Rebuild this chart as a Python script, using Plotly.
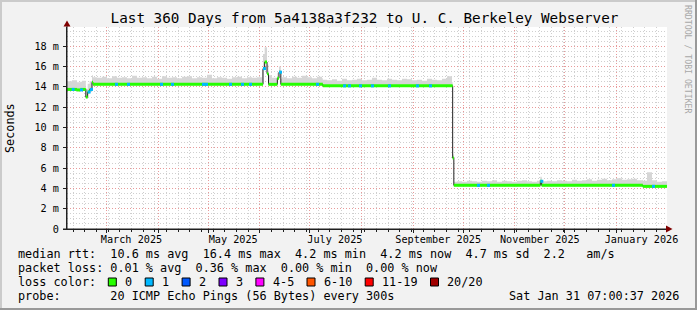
import pandas as pd
import plotly.graph_objects as go

# ---------------- data ----------------
START = pd.Timestamp("2025-02-05 07:00:37")
END = pd.Timestamp("2026-01-31 07:00:37")

# median rtt (ms), step changes, given as days since START
median_day = [0, 6.0, 8.0, 11.3, 12.4, 13.6, 15.0, 15.6, 117.6, 118.6, 120.0, 120.9,
              126.2, 127.2, 128.3, 153.5, 231.4, 232.1, 284.0, 284.8, 345.5]
median_ms = [13.75, 13.7, 13.75, 13.0, 13.5, 13.75, 14.45, 14.25, 15.8, 16.45, 15.3, 14.25,
             14.85, 15.45, 14.25, 14.1, 7.0, 4.3, 4.7, 4.3, 4.2]

# days (since START) where the median carries 1/20 packet loss (blue)
loss1_day = [2.8, 7.8, 12.4, 13.8, 28.8, 36.0, 55.8, 62.4, 81.0, 82.8, 97.2, 104.4, 109.2,
             117.6, 127.2, 149.4, 165.6, 168.6, 175.2, 182.4, 192.6, 209.4, 217.2, 246.0,
             252.0, 284.0, 327.0, 351.0]

# smoke height above the median (ms), one value per 3 days
smoke_spread_ms = [
    0.80, 0.90, 0.75, 0.85, 0.80, 0.70, 0.65, 0.75, 0.60, 0.80,
    0.65, 0.70, 0.60, 0.85, 0.65, 0.70, 0.60, 0.75, 0.55, 0.80,
    0.65, 0.70, 0.60, 0.75, 0.80, 0.60, 0.70, 0.65, 0.95, 0.60,
    0.70, 0.65, 0.55, 0.70, 0.75, 0.60, 0.70, 0.65, 0.70, 1.45,
    0.90, 0.65, 0.55, 0.70, 0.60, 0.75, 0.65, 0.85, 0.70, 0.60,
    0.75, 0.60, 0.55, 0.65, 0.50, 0.70, 0.55, 0.60, 0.70, 0.55,
    0.60, 0.80, 0.60, 0.55, 0.70, 0.60, 0.55, 0.70, 0.65, 0.55,
    0.60, 0.50, 0.70, 0.60, 0.55, 0.70, 0.95, 0.35, 0.40, 0.35,
    0.45, 0.40, 0.35, 0.45, 0.40, 0.50, 0.35, 0.45, 0.40, 0.35,
    0.45, 0.50, 0.40, 0.35, 0.45, 0.40, 0.45, 0.40, 0.50, 0.45,
    0.40, 0.55, 0.45, 0.50, 0.60, 0.45, 0.55, 0.65, 0.50, 0.60,
    0.70, 0.55, 0.60, 0.65, 0.50, 0.55, 1.40, 0.60, 0.45, 0.50,
]
SMOKE_STEP = 3.0

month_starts = ["2025-03-01", "2025-04-01", "2025-05-01", "2025-06-01", "2025-07-01",
                "2025-08-01", "2025-09-01", "2025-10-01", "2025-11-01", "2025-12-01",
                "2026-01-01"]
label_dates = ["2025-03-16", "2025-05-16", "2025-07-16", "2025-09-16", "2025-11-16", "2026-01-16"]
label_text = ["March 2025", "May 2025", "July 2025", "September 2025", "November 2025", "January 2026"]
y_tick_ms = [0, 2, 4, 6, 8, 10, 12, 14, 16, 18]
y_tick_text = ["0", "2 m", "4 m", "6 m", "8 m", "10 m", "12 m", "14 m", "16 m", "18 m"]

title_text = "Last 360 Days from 5a4138a3f232 to U. C. Berkeley Webserver"
row1_text = "median rtt:  10.6 ms avg  16.4 ms max  4.2 ms min  4.2 ms now  4.7 ms sd  2.2   am/s"
row2_text = "packet loss: 0.01 % avg  0.36 % max  0.00 % min  0.00 % now"
row3_text = "loss color:"
loss_labels = ["0", "1", "2", "3", "4-5", "6-10", "11-19", "20/20"]
loss_colors = ["#26ff00", "#00b8ff", "#0059ff", "#7e00ff", "#ff00ff", "#ff5500", "#ff0000", "#a10000"]
row4_text = "probe:       20 ICMP Echo Pings (56 Bytes) every 300s"
stamp_text = "Sat Jan 31 07:00:37 2026"

# ---------------- helpers ----------------
W, H = 697, 310
PL, PR, PT, PB = 67, 667, 27, 229
Y_MAX = 19.9
MONO = "DejaVu Sans Mono"


def px_x(p):
    return (p - PL) / (PR - PL)


def px_y(p):
    return (PB - p) / (PB - PT)


def nb(s):
    return s.replace(" ", "\u00a0")


def to_date(d):
    return START + pd.to_timedelta(d, unit="D")


def median_at(d):
    v = median_ms[0]
    for dd, vv in zip(median_day, median_ms):
        if dd <= d:
            v = vv
        else:
            break
    return v


# smoke band
bps = sorted(set(median_day) | {i * SMOKE_STEP for i in range(len(smoke_spread_ms))})
sx, s_lo, s_hi = [], [], []
for t in bps:
    m = median_at(t)
    sp = smoke_spread_ms[min(int(t // SMOKE_STEP), len(smoke_spread_ms) - 1)]
    sx.append(to_date(t))
    s_lo.append(m - 0.12)
    s_hi.append(m + sp)
sx.append(END)
s_lo.append(s_lo[-1])
s_hi.append(s_hi[-1])

# median step line
mx = [to_date(d) for d in median_day] + [END]
my = median_ms + [median_ms[-1]]

# colored horizontal segments (loss 0)
gx, gy = [], []
ends = median_day[1:] + [360.0]
for d0, d1, v in zip(median_day, ends, median_ms):
    gx += [to_date(d0), to_date(d1), None]
    gy += [v, v, None]

# loss 1 segments
SEG = 1.8
bx, by = [], []
for d in loss1_day:
    v = median_at(d)
    bx += [to_date(d), to_date(d + SEG), None]
    by += [v, v, None]

fig = go.Figure()
fig.add_trace(go.Scatter(x=sx, y=s_lo, mode="lines", line=dict(width=0, shape="hv"),
                         hoverinfo="skip", showlegend=False))
fig.add_trace(go.Scatter(x=sx, y=s_hi, mode="lines", line=dict(width=0, shape="hv"),
                         fill="tonexty", fillcolor="#d6d6d6", hoverinfo="skip", showlegend=False))
fig.add_trace(go.Scatter(x=mx, y=my, mode="lines", line=dict(width=1, color="#202020", shape="hv"),
                         hoverinfo="skip", showlegend=False))
fig.add_trace(go.Scatter(x=gx, y=gy, mode="lines", line=dict(width=3, color=loss_colors[0]),
                         connectgaps=False, hoverinfo="skip", showlegend=False))
fig.add_trace(go.Scatter(x=bx, y=by, mode="lines", line=dict(width=3, color=loss_colors[1]),
                         connectgaps=False, hoverinfo="skip", showlegend=False))
# carrier for the label axis
fig.add_trace(go.Scatter(x=[START, END], y=[0, 0], xaxis="x2", mode="lines",
                         line=dict(width=0), opacity=0, hoverinfo="skip", showlegend=False))

GRID_MAJOR = "#e89a9a"
GRID_MINOR = "#cfcfcf"
AXIS = "#202020"

fig.update_layout(
    width=W, height=H,
    margin=dict(l=PL, r=W - PR, t=PT, b=H - PB, pad=0),
    paper_bgcolor="#f2f2f2", plot_bgcolor="#ffffff",
    font=dict(family=MONO, color="#000000", size=10.2),
    showlegend=False,
    title=dict(text=title_text, x=364.5 / W, xref="container", xanchor="center",
               y=1 - 18 / H, yref="container", yanchor="middle",
               font=dict(family=MONO, size=14.3, color="#000000")),
    xaxis=dict(
        type="date", range=[START, END], domain=[0, 1],
        tickmode="array", tickvals=month_starts, showticklabels=False,
        showgrid=True, gridcolor=GRID_MAJOR, griddash="1px,2px", gridwidth=1,
        ticks="outside", ticklen=3, tickcolor=AXIS,
        minor=dict(dtick=7 * 86400000, tick0="2025-02-09", showgrid=True,
                   gridcolor=GRID_MINOR, griddash="1px,2px", gridwidth=1,
                   ticks="outside", ticklen=2, tickcolor=AXIS),
        showline=True, linecolor=AXIS, linewidth=1, zeroline=False, fixedrange=True,
    ),
    xaxis2=dict(
        type="date", overlaying="x", matches="x", anchor="y", side="bottom",
        tickmode="array", tickvals=label_dates, ticktext=label_text,
        showgrid=False, ticks="", showline=False, zeroline=False,
        tickfont=dict(family=MONO, size=10.2, color="#000000"), ticklabelstandoff=3,
    ),
    yaxis=dict(
        range=[0, Y_MAX], tickmode="array", tickvals=y_tick_ms, ticktext=y_tick_text,
        showgrid=True, gridcolor=GRID_MAJOR, griddash="1px,2px", gridwidth=1,
        ticks="outside", ticklen=3, tickcolor=AXIS,
        minor=dict(dtick=0.5, showgrid=True, gridcolor=GRID_MINOR, griddash="1px,2px",
                   gridwidth=1),
        showline=True, linecolor=AXIS, linewidth=1, zeroline=False, fixedrange=True,
        tickfont=dict(family=MONO, size=10.2, color="#000000"), ticklabelstandoff=2,
    ),
)

shapes = []
# frame shading
shapes.append(dict(type="rect", xref="paper", yref="paper", x0=px_x(0), x1=px_x(W), y0=px_y(0), y1=px_y(2),
                   line=dict(width=0), fillcolor="#cbcbcb", layer="above"))
shapes.append(dict(type="rect", xref="paper", yref="paper", x0=px_x(0), x1=px_x(2), y0=px_y(0), y1=px_y(H),
                   line=dict(width=0), fillcolor="#cbcbcb", layer="above"))
shapes.append(dict(type="rect", xref="paper", yref="paper", x0=px_x(W - 2), x1=px_x(W), y0=px_y(0), y1=px_y(H),
                   line=dict(width=0), fillcolor="#999999", layer="above"))
shapes.append(dict(type="rect", xref="paper", yref="paper", x0=px_x(0), x1=px_x(W), y0=px_y(H - 2), y1=px_y(H),
                   line=dict(width=0), fillcolor="#999999", layer="above"))
# axis extensions
shapes.append(dict(type="line", xref="paper", yref="paper", x0=px_x(PL), x1=px_x(PL), y0=px_y(PB), y1=px_y(24),
                   line=dict(color=AXIS, width=1), layer="above"))
shapes.append(dict(type="line", xref="paper", yref="paper", x0=px_x(63), x1=px_x(668), y0=px_y(PB), y1=px_y(PB),
                   line=dict(color=AXIS, width=1), layer="above"))
# arrows
shapes.append(dict(type="path", xref="paper", yref="paper",
                   path="M {} {} L {} {} L {} {} Z".format(px_x(PL), px_y(20.5), px_x(63.5), px_y(26.5), px_x(70.5), px_y(26.5)),
                   line=dict(width=0), fillcolor="#800000", layer="above"))
shapes.append(dict(type="path", xref="paper", yref="paper",
                   path="M {} {} L {} {} L {} {} Z".format(px_x(672.5), px_y(PB), px_x(666), px_y(PB - 3.5), px_x(666), px_y(PB + 3.5)),
                   line=dict(width=0), fillcolor="#800000", layer="above"))

annotations = []


def add_text(txt, x, y, size=11.8, anchor="left", **kw):
    annotations.append(dict(text=nb(txt), x=px_x(x), y=px_y(y), xref="paper", yref="paper",
                            xanchor=anchor, yanchor="middle", showarrow=False,
                            font=dict(family=MONO, size=size, color=kw.get("color", "#000000")),
                            textangle=kw.get("angle", 0)))


add_text("Seconds", 10, (PT + PB) / 2, size=11.8, anchor="center", angle=-90)
add_text("RRDTOOL / TOBI OETIKER", 688, 59, size=8.2, anchor="center", angle=90, color="#a8a8a8")

X0 = 16
CW = 7.1
add_text(row1_text, X0, 254.3)
add_text(row2_text, X0, 268.3)
add_text(row3_text, X0, 282.0)
add_text(row4_text, X0, 296.0)
add_text(stamp_text, 681, 296.0, anchor="right")

bxp = X0 + 13 * CW
for lab, col in zip(loss_labels, loss_colors):
    shapes.append(dict(type="rect", xref="paper", yref="paper", x0=px_x(bxp), x1=px_x(bxp + 8),
                       y0=px_y(278), y1=px_y(286), fillcolor=col, line=dict(color="#000000", width=1),
                       layer="above"))
    lx = bxp + 14.7
    add_text(lab, lx, 282.0)
    bxp = lx + CW * len(lab) + 15.1

fig.update_layout(shapes=shapes, annotations=annotations)
fig.write_html("out.html")
